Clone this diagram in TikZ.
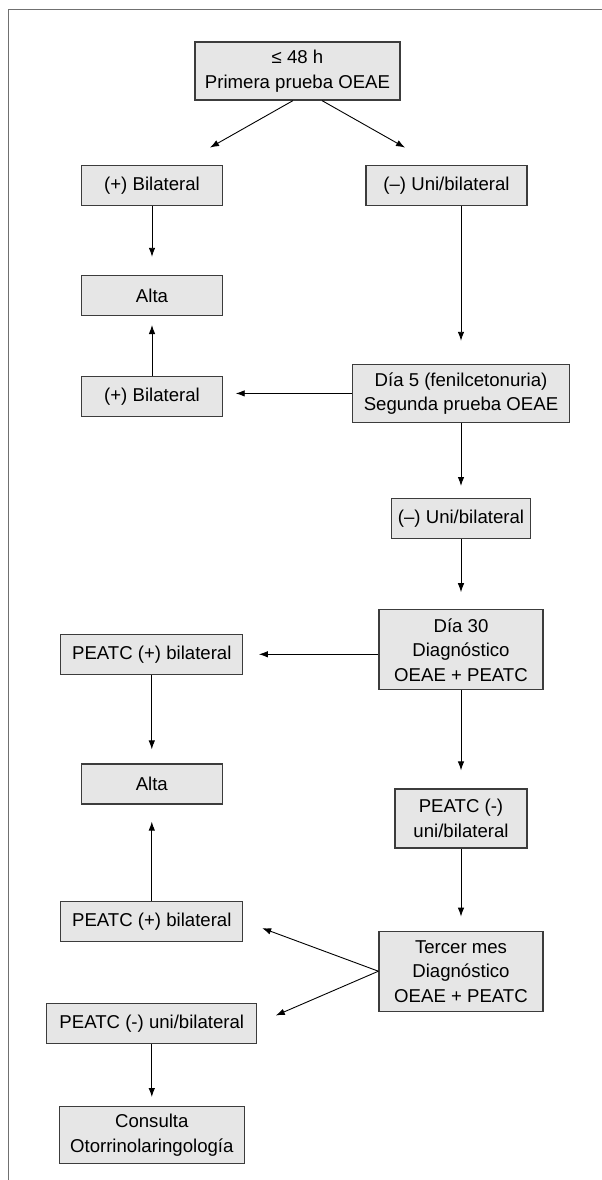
\documentclass[tikz,border=0pt]{standalone}
\usepackage{fontspec}
\setmainfont{Liberation Sans}
\usepackage{xcolor}
\usetikzlibrary{arrows.meta,positioning}
\definecolor{boxfill}{HTML}{E6E6E6}
\definecolor{boxline}{HTML}{3C3C3C}
\definecolor{frameline}{HTML}{707070}

\begin{document}
\begin{tikzpicture}[
    bx/.style={draw=boxline, line width=1.2pt, fill=boxfill, align=center, inner sep=0pt, minimum height=40pt, font=\fontsize{18.6}{24.5}\selectfont},
    ar/.style={-{Latex[length=9pt,width=6.5pt]}, line width=0.9pt}
  ]
    \useasboundingbox (0,0) rectangle (602pt,-1180pt);
    \draw[frameline, line width=1pt] (602pt,-10pt) -- (8.5pt,-10pt) -- (8.5pt,-1180pt);

    % first test
    \node[bx, minimum width=205pt, minimum height=58pt] (top) at (297.5pt,-71pt) {≤ 48 h\\Primera prueba OEAE};
    \node[bx, minimum width=141pt, below=64pt of top, xshift=-145.5pt] (posA) {(+) Bilateral};
    \node[bx, minimum width=161pt, below=64pt of top, xshift=149pt] (negA) {(–) Uni/bilateral};
    \node[bx, minimum width=141pt, below=69pt of posA] (alta1) {Alta};
    \node[bx, minimum width=141pt, below=60pt of alta1] (posB) {(+) Bilateral};

    % second test
    \node[bx, minimum width=217pt, minimum height=58pt, below=158pt of negA, xshift=14.5pt] (dia5) {Día 5 (fenilcetonuria)\\Segunda prueba OEAE};
    \node[bx, minimum width=139pt, below=75pt of dia5] (negB) {(–) Uni/bilateral};

    % day 30
    \node[bx, minimum width=164pt, minimum height=80pt, below=70pt of negB] (dia30) {Día 30\\Diagnóstico\\OEAE + PEATC};
    \node[bx, minimum width=182pt, left=135pt of dia30, yshift=-4.5pt] (peatcPosA) {PEATC (+) bilateral};
    \node[bx, minimum width=141pt, below=88.5pt of peatcPosA] (alta2) {Alta};
    \node[bx, minimum width=132pt, minimum height=59pt, below=98pt of dia30] (peatcNeg) {PEATC (-)\\uni/bilateral};

    % third month
    \node[bx, minimum width=164pt, minimum height=80pt, below=82pt of peatcNeg] (tercer) {Tercer mes\\Diagnóstico\\OEAE + PEATC};
    \node[bx, minimum width=182pt, below=96pt of alta2] (peatcPosB) {PEATC (+) bilateral};
    \node[bx, minimum width=210pt, below=61pt of peatcPosB] (peatcNegB) {PEATC (-) uni/bilateral};
    \node[bx, minimum width=185pt, minimum height=57pt, below=62pt of peatcNegB] (consulta) {Consulta\\Otorrinolaringología};

    \coordinate (forkL) at ([xshift=58pt,yshift=17pt]posA.north);
    \coordinate (forkR) at ([xshift=-41.5pt,yshift=17pt]negA.north);

    \draw[ar] ([xshift=-4.5pt]top.south) -- (forkL);
    \draw[ar] ([xshift=24.5pt]top.south) -- (forkR);
    \draw[ar, shorten >=18pt] (posA) -- (alta1);
    \draw[ar, shorten >=9pt] (posB) -- (alta1);
    \draw[ar, shorten >=23pt] (negA.south -| dia5.north) -- (dia5.north);
    \draw[ar, shorten >=12.6pt] (dia5.west) -- (dia5.west -| posB.east);
    \draw[ar, shorten >=12pt] (dia5) -- (negB);
    \draw[ar, shorten >=17pt] (negB) -- (dia30);
    \draw[ar, shorten >=15.5pt] (dia30.west |- peatcPosA) -- (peatcPosA.east);
    \draw[ar, shorten >=14pt] (peatcPosA) -- (alta2);
    \draw[ar, shorten >=18pt] (dia30) -- (peatcNeg);
    \draw[ar, shorten >=17pt] (peatcPosB) -- (alta2);
    \draw[ar, shorten >=14pt] (peatcNeg) -- (tercer);
    \draw[ar, shorten >=20pt] (tercer.west) -- (peatcPosB.east);
    \draw[ar, shorten >=20pt] (tercer.west) -- (peatcNegB.east);
    \draw[ar, shorten >=9pt] (peatcNegB) -- (consulta);
  \end{tikzpicture}
\end{document}
